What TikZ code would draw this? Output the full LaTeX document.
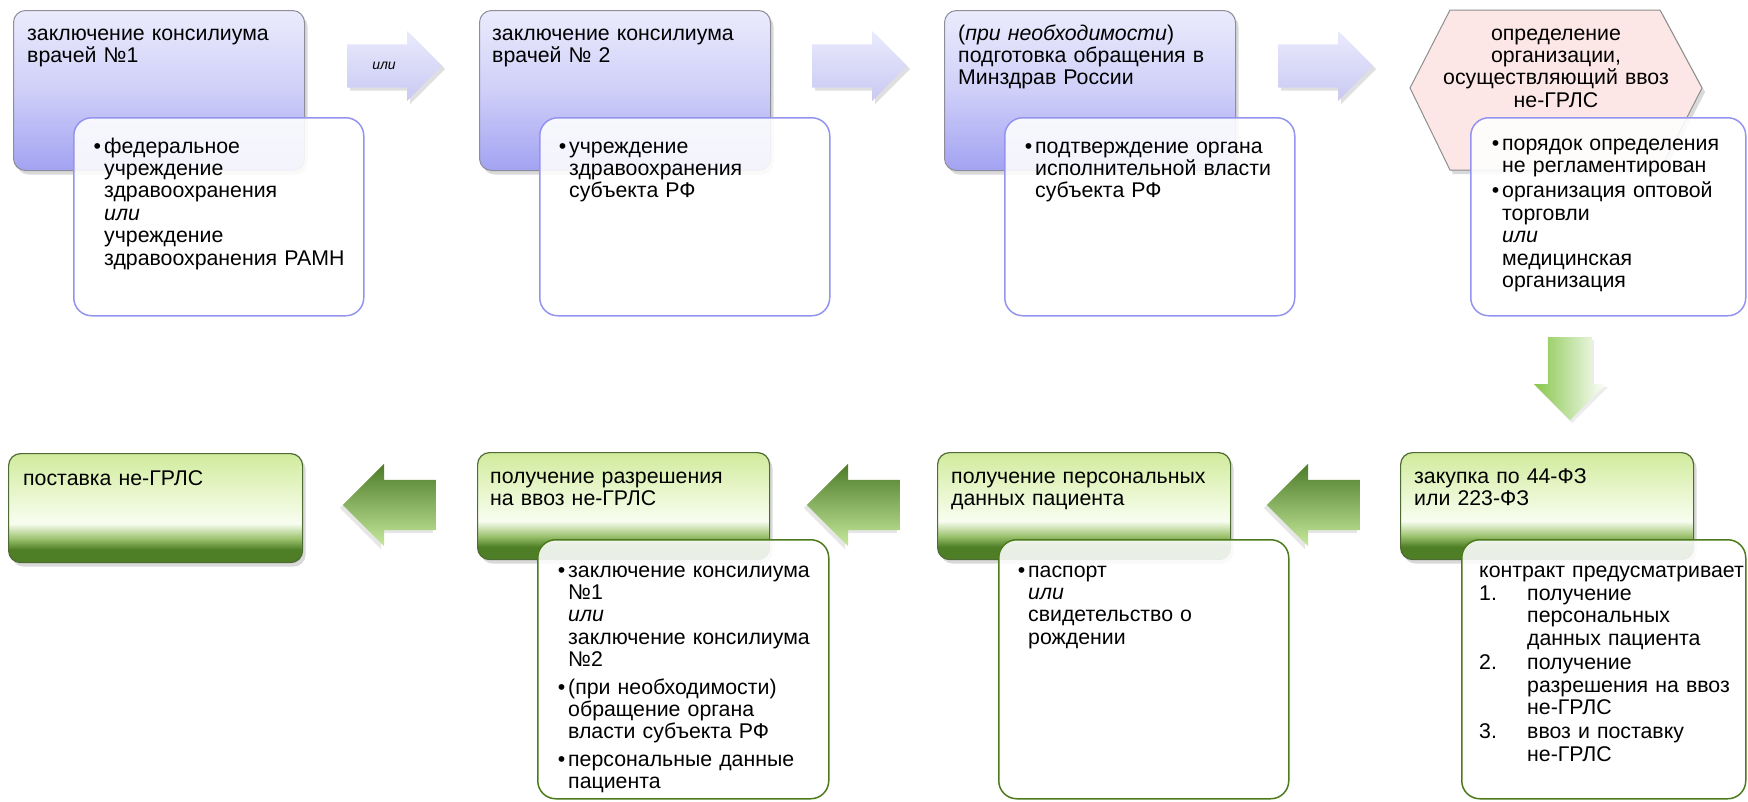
\documentclass[tikz,border=0pt]{standalone}
\usepackage{fontspec}
\setmainfont{Liberation Sans}
\usetikzlibrary{shapes.arrows,shadows}
\definecolor{lvtop}{HTML}{EBEBFD}
\definecolor{lvmid}{HTML}{CFCFF9}
\definecolor{lvbot}{HTML}{A2A2F2}
\definecolor{lvborder}{HTML}{8E8E9A}
\definecolor{lvsub}{HTML}{9494EE}
\definecolor{artop}{HTML}{EAEAFD}
\definecolor{arbot}{HTML}{C9C9F3}
\definecolor{hexfill}{HTML}{FDE6E6}
\definecolor{hexborder}{HTML}{8E8E8E}
\definecolor{glight}{HTML}{D0EB9C}
\definecolor{gmid}{HTML}{E8F6CC}
\definecolor{gwhite}{HTML}{F8FDF0}
\definecolor{gmidd}{HTML}{9CC26E}
\definecolor{gdark}{HTML}{4E7F26}
\definecolor{gborder}{HTML}{4F6B35}
\definecolor{gsub}{HTML}{4C7A1C}
\definecolor{gartop}{HTML}{4C7B28}
\definecolor{garbot}{HTML}{C6E99C}
\definecolor{gdown}{HTML}{86C64A}
\pgfdeclareverticalshading{greenbar}{100bp}{color(0bp)=(gdark); color(25bp)=(gdark); color(31bp)=(gdark); color(36bp)=(gmidd); color(43bp)=(gwhite); color(57bp)=(gmid); color(75bp)=(glight); color(100bp)=(glight)}
\newcommand\bul{\leavevmode\llap{\textbullet\hspace{3pt}}}
\newcommand\numl[1]{\leavevmode\makebox[48pt][l]{#1}}
\newcommand\ind{\leavevmode\hspace*{48pt}}
\begin{document}
\begin{tikzpicture}[x=1pt,y=-1pt,
  txt/.style={anchor=base west,inner sep=0pt,text width=300pt,align=left,font=\fontsize{21.3pt}{22.4pt}\selectfont},
  lbox/.style={draw=lvborder,line width=1pt,rounded corners=12pt,top color=lvtop,bottom color=lvbot,middle color=lvmid,anchor=north west,inner sep=0pt,drop shadow={shadow xshift=3pt,shadow yshift=-4pt,opacity=0.3}},
  lsub/.style={draw=lvsub,line width=1.5pt,rounded corners=18pt,fill=white,fill opacity=0.88,anchor=north west,inner sep=0pt},
  gbox/.style={draw=gborder,line width=1.2pt,rounded corners=12pt,shading=greenbar,anchor=north west,inner sep=0pt,drop shadow={shadow xshift=3pt,shadow yshift=-4pt,opacity=0.3}},
  gsubbox/.style={draw=gsub,line width=1.5pt,rounded corners=18pt,fill=white,fill opacity=0.88,anchor=north west,inner sep=0pt},
  blarrow/.style={single arrow,anchor=tail,single arrow head extend=13.5pt,minimum height=95pt,inner sep=21.5pt,top color=artop,bottom color=arbot,draw=none,drop shadow={shadow xshift=3pt,shadow yshift=-3pt,opacity=0.25}},
  grarrow/.style={single arrow,anchor=tail,shape border rotate=180,single arrow head extend=16pt,minimum height=93pt,inner sep=25pt,top color=gartop,bottom color=garbot,draw=none,drop shadow={shadow xshift=-3pt,shadow yshift=-3pt,opacity=0.2}}
]
\useasboundingbox (0,0) rectangle (1748,801);
% ---------- top row ----------
\node[lbox,minimum width=291pt,minimum height=160pt] (b1) at (13,10) {};
\node[lbox,minimum width=291pt,minimum height=160pt] (b2) at (479,10) {};
\node[lbox,minimum width=291pt,minimum height=160pt] (b3) at (944,10) {};
\draw[draw=hexborder,line width=1pt,fill=hexfill,drop shadow={shadow xshift=3pt,shadow yshift=-4pt,opacity=0.3}]
  (1410,88) -- (1450,10) -- (1660,10) -- (1702,88) -- (1660,170) -- (1450,170) -- cycle;
\node[blarrow] (a1) at (347,66) {};
\node[blarrow] (a2) at (812,66) {};
\node[blarrow] (a3) at (1278,66) {};
\node[inner sep=0pt,font=\fontsize{14pt}{16pt}\selectfont\itshape] (orl) at (384,66) {или};

\node[lsub,minimum width=290pt,minimum height=198pt] (s1) at (73,117) {};
\node[lsub,minimum width=290pt,minimum height=198pt] (s2) at (539,117) {};
\node[lsub,minimum width=290pt,minimum height=198pt] (s3) at (1004,117) {};
\node[lsub,minimum width=275pt,minimum height=198pt] (s4) at (1470,117) {};

\node[txt] (t1) at (27,40) {заключение консилиума\\врачей №1};
\node[txt] (t2) at (492,40) {заключение консилиума\\врачей № 2};
\node[txt] (t3) at (958,40) {(\textit{при необходимости})\\подготовка обращения в\\Минздрав России};
\node[txt,anchor=base,align=center,text width=280pt] (th) at (1556,40) {определение\\организации,\\осуществляющий ввоз\\не-ГРЛС};

\node[txt] (st1) at (104,153) {\bul федеральное\\учреждение\\здравоохранения\\\textit{или}\\учреждение\\здравоохранения РАМН};
\node[txt] (st2) at (569,153) {\bul учреждение\\здравоохранения\\субъекта РФ};
\node[txt] (st3) at (1035,153) {\bul подтверждение органа\\исполнительной власти\\субъекта РФ};
\node[txt] (st4) at (1502,150) {\bul порядок определения\\не регламентирован\\[3pt]\bul организация оптовой\\торговли\\\textit{или}\\медицинская\\организация};

% ---------- down arrow ----------
\node[single arrow,anchor=tail,shape border rotate=270,single arrow head extend=14pt,minimum height=83pt,inner sep=22pt,left color=gdown,right color=white,draw=none,drop shadow={shadow xshift=2pt,shadow yshift=-3pt,opacity=0.15}] (ad) at (1570,337) {};

% ---------- bottom row ----------
\node[gbox,minimum width=294pt,minimum height=109pt] (g1) at (8,453) {};
\node[gbox,minimum width=292pt,minimum height=107pt] (g2) at (477,452) {};
\node[gbox,minimum width=293pt,minimum height=107pt] (g3) at (937,452) {};
\node[gbox,minimum width=293pt,minimum height=107pt] (g4) at (1400,452) {};
\node[grarrow] (la1) at (436,505) {};
\node[grarrow] (la2) at (900,505) {};
\node[grarrow] (la3) at (1360,505) {};

\node[gsubbox,minimum width=291pt,minimum height=259pt] (gs2) at (537,539) {};
\node[gsubbox,minimum width=290pt,minimum height=259pt] (gs3) at (998,539) {};
\node[gsubbox,minimum width=284pt,minimum height=259pt] (gs4) at (1461,539) {};

\node[txt] (bt1) at (23,485) {поставка не-ГРЛС};
\node[txt] (bt2) at (490,483) {получение разрешения\\на ввоз не-ГРЛС};
\node[txt] (bt3) at (951,483) {получение персональных\\данных пациента};
\node[txt] (bt4) at (1414,483) {закупка по 44-ФЗ\\или 223-ФЗ};

\node[txt] (bs2) at (568,577) {\bul заключение консилиума\\№1\\\textit{или}\\заключение консилиума\\№2\\[5pt]\bul (при необходимости)\\обращение органа\\власти субъекта РФ\\[5pt]\bul персональные данные\\пациента};
\node[txt] (bs3) at (1028,577) {\bul паспорт\\\textit{или}\\свидетельство о\\рождении};
\node[txt] (bs4) at (1479,577) {контракт предусматривает\\[1pt]\numl{1.}получение\\\ind персональных\\\ind данных пациента\\[2pt]\numl{2.}получение\\\ind разрешения на ввоз\\\ind не-ГРЛС\\[2pt]\numl{3.}ввоз и поставку\\\ind не-ГРЛС};
\end{tikzpicture}
\end{document}
